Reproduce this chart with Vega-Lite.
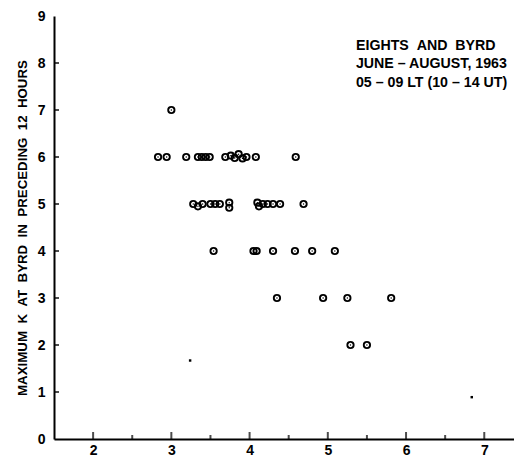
{
  "$schema": "https://vega.github.io/schema/vega-lite/v6.json",
  "width": 460,
  "height": 423,
  "autosize": {"type": "none"},
  "padding": {"left": 54, "top": 16, "right": 0, "bottom": 18},
  "background": "white",
  "config": {
    "view": {"stroke": null},
    "font": "Liberation Sans",
    "axis": {"grid": false, "domainColor": "black", "domainWidth": 2, "ticks": false,
      "labelFont": "Liberation Sans", "labelFontWeight": "bold", "labelColor": "black", "labelFontSize": 14,
      "titleFont": "Liberation Sans", "titleFontWeight": "bold", "titleColor": "black"}
  },
  "datasets": {
    "pts": [
      {"x": 3.00, "k": 7},
      {"x": 2.83, "k": 6}, {"x": 2.94, "k": 6}, {"x": 3.19, "k": 6}, {"x": 3.34, "k": 6}, {"x": 3.39, "k": 6},
      {"x": 3.44, "k": 6}, {"x": 3.49, "k": 6}, {"x": 3.69, "k": 6}, {"x": 3.76, "k": 6.03}, {"x": 3.81, "k": 5.98},
      {"x": 3.86, "k": 6.06}, {"x": 3.91, "k": 5.97}, {"x": 3.96, "k": 6}, {"x": 4.08, "k": 6}, {"x": 4.59, "k": 6},
      {"x": 3.28, "k": 5}, {"x": 3.34, "k": 4.95}, {"x": 3.40, "k": 5}, {"x": 3.50, "k": 5}, {"x": 3.56, "k": 5},
      {"x": 3.62, "k": 5}, {"x": 3.74, "k": 5.03}, {"x": 3.74, "k": 4.92}, {"x": 4.10, "k": 5.03}, {"x": 4.12, "k": 4.95},
      {"x": 4.17, "k": 5}, {"x": 4.23, "k": 5}, {"x": 4.30, "k": 5}, {"x": 4.39, "k": 5}, {"x": 4.69, "k": 5},
      {"x": 3.54, "k": 4}, {"x": 4.05, "k": 4}, {"x": 4.09, "k": 4}, {"x": 4.30, "k": 4}, {"x": 4.58, "k": 4},
      {"x": 4.80, "k": 4}, {"x": 5.09, "k": 4},
      {"x": 4.35, "k": 3}, {"x": 4.94, "k": 3}, {"x": 5.25, "k": 3}, {"x": 5.81, "k": 3},
      {"x": 5.29, "k": 2}, {"x": 5.50, "k": 2}
    ],
    "specks": [
      {"x": 3.24, "k": 1.67},
      {"x": 6.84, "k": 0.89}
    ],
    "xmajor": [{"x": 2}, {"x": 3}, {"x": 4}, {"x": 5}, {"x": 6}, {"x": 7}],
    "xminor": [{"x": 2.5}, {"x": 3.5}, {"x": 4.5}, {"x": 5.5}, {"x": 6.5}],
    "ymajor": [{"k": 1}, {"k": 2}, {"k": 3}, {"k": 4}, {"k": 5}, {"k": 6}, {"k": 7}, {"k": 8}]
  },
  "layer": [
    {
      "data": {"name": "pts"},
      "mark": {"type": "point", "shape": "circle", "filled": false, "stroke": "black", "strokeWidth": 1.9, "size": 40, "opacity": 1},
      "encoding": {
        "x": {"field": "x", "type": "quantitative", "scale": {"domain": [1.5, 7.38], "nice": false, "zero": false},
          "axis": {"title": null, "values": [2, 3, 4, 5, 6, 7], "format": "d", "labelPadding": 4, "labelFlush": false}},
        "y": {"field": "k", "type": "quantitative", "scale": {"domain": [0, 9], "nice": false},
          "axis": {"title": "MAXIMUM\u00a0\u00a0K\u00a0\u00a0AT\u00a0\u00a0BYRD\u00a0\u00a0IN\u00a0\u00a0PRECEDING\u00a0\u00a012\u00a0\u00a0HOURS", "titleFontSize": 13.3,
            "values": [0, 1, 2, 3, 4, 5, 6, 7, 8, 9], "format": "d",
            "labelPadding": 9, "titlePadding": 8, "labelFlush": false}}
      }
    },
    {
      "data": {"name": "xmajor"},
      "mark": {"type": "tick", "orient": "vertical", "color": "black", "thickness": 2, "size": 7, "yOffset": -3.5},
      "encoding": {"x": {"field": "x", "type": "quantitative"}, "y": {"datum": 0}}
    },
    {
      "data": {"name": "xminor"},
      "mark": {"type": "tick", "orient": "vertical", "color": "black", "thickness": 2, "size": 4, "yOffset": -2},
      "encoding": {"x": {"field": "x", "type": "quantitative"}, "y": {"datum": 0}}
    },
    {
      "data": {"name": "ymajor"},
      "mark": {"type": "tick", "orient": "horizontal", "color": "black", "thickness": 2, "size": 5, "xOffset": 2.5},
      "encoding": {"y": {"field": "k", "type": "quantitative"}, "x": {"datum": 1.5}}
    },
    {
      "data": {"name": "pts"},
      "mark": {"type": "point", "shape": "circle", "filled": true, "color": "black", "size": 2, "opacity": 1},
      "encoding": {
        "x": {"field": "x", "type": "quantitative"},
        "y": {"field": "k", "type": "quantitative"}
      }
    },
    {
      "data": {"name": "specks"},
      "mark": {"type": "point", "shape": "square", "filled": true, "color": "black", "opacity": 1, "size": 6},
      "encoding": {
        "x": {"field": "x", "type": "quantitative"},
        "y": {"field": "k", "type": "quantitative"}
      }
    },
    {
      "data": {"values": [{}]},
      "mark": {"type": "text", "align": "left", "baseline": "top", "fontSize": 14.2, "lineHeight": 18.5, "font": "Liberation Sans", "fontWeight": "bold", "color": "black"},
      "encoding": {
        "x": {"datum": 5.36},
        "y": {"datum": 8.52},
        "text": {"value": ["EIGHTS\u00a0\u00a0AND\u00a0\u00a0BYRD", "JUNE – AUGUST, 1963", "05 – 09 LT (10 – 14 UT)"]}
      }
    }
  ]
}
